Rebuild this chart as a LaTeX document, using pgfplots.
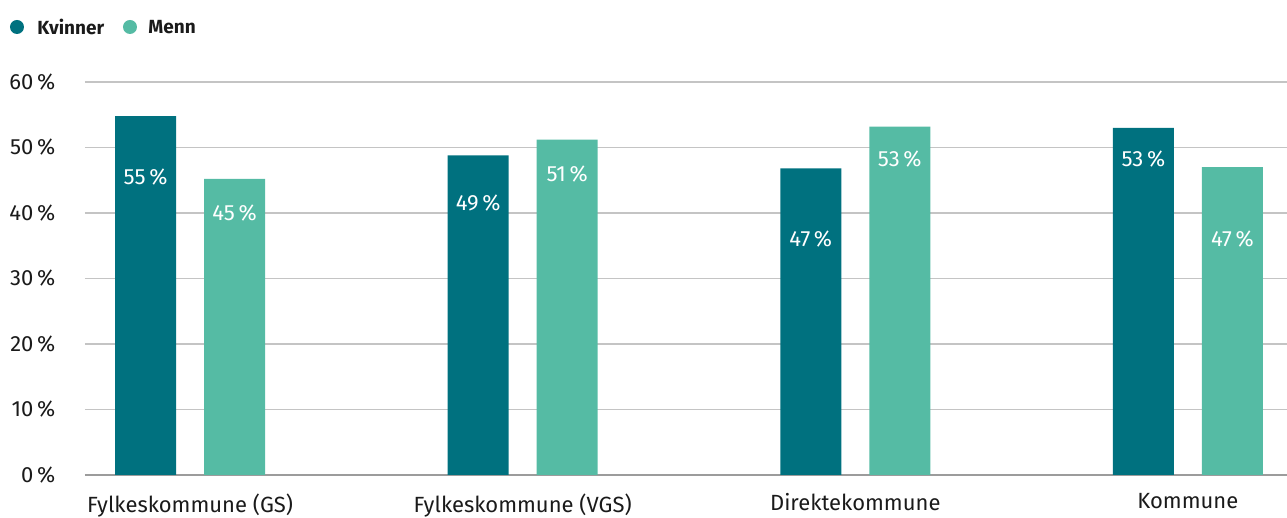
\documentclass[border=0pt]{standalone}
\usepackage{fontspec}
\setmainfont{Fira Sans}
\usepackage{pgfplots}
\pgfplotsset{compat=1.18}

\definecolor{kv}{HTML}{00717F}
\definecolor{me}{HTML}{55BBA4}
\definecolor{txt}{HTML}{1A1A1A}
\definecolor{gridc}{HTML}{C4C4C4}
\definecolor{basec}{HTML}{9C9C9C}

\begin{document}
\fontsize{11}{13}\selectfont
\begin{tikzpicture}
\useasboundingbox (-42.5pt,-21.5pt) rectangle (601pt,237.5pt);
\begin{axis}[
    at={(0,0)}, anchor=south west,
    scale only axis,
    width=601pt, height=196.5pt,
    ybar, bar width=30.5pt,
    xmin=-0.316, xmax=3.298,
    ymin=0, ymax=60,
    ytick={0,10,...,60},
    xtick={0,1,2,3},
    xticklabels={Fylkeskommune (GS), Fylkeskommune (VGS), Direktekommune, Kommune},
    yticklabel={\pgfmathprintnumber{\tick}\,\%},
    /pgf/number format/assume math mode=true,
    major tick length=0pt,
    ymajorgrids,
    grid style={gridc, line width=0.6pt},
    axis x line*=bottom, axis y line*=left,
    x axis line style={basec, line width=0.7pt, -},
    y axis line style={draw=none},
    tick label style={text=txt},
    xticklabel style={yshift=-5.5pt},
    yticklabel style={xshift=-11pt},
]
% Kvinner
\addplot[fill=kv, draw=none, bar shift=-22.25pt] coordinates {(0,54.8) (1,48.8) (2,46.8) (3,53.0)};
% Menn
\addplot[fill=me, draw=none, bar shift=22.25pt] coordinates {(0,45.2) (1,51.2) (2,53.2) (3,47.0)};

\begin{scope}[every node/.style={text=white, font=\fontsize{11}{13}\selectfont}]
\node[xshift=-22.25pt] at (axis cs:0,45.5) {55\,\%};
\node[xshift=22.25pt]  at (axis cs:0,40.0) {45\,\%};
\node[xshift=-22.25pt] at (axis cs:1,41.5) {49\,\%};
\node[xshift=22.25pt]  at (axis cs:1,46.0) {51\,\%};
\node[xshift=-22.25pt] at (axis cs:2,36.0) {47\,\%};
\node[xshift=22.25pt]  at (axis cs:2,48.2) {53\,\%};
\node[xshift=-22.25pt] at (axis cs:3,48.2) {53\,\%};
\node[xshift=22.25pt]  at (axis cs:3,36.0) {47\,\%};
\end{scope}
\end{axis}

% legend
\fill[kv] (-34pt,224pt) circle (3.5pt);
\node[anchor=west, inner sep=0pt, text=txt, font=\fontsize{9.5}{11}\selectfont\bfseries] at (-24pt,224pt) {Kvinner};
\fill[me] (22.5pt,224pt) circle (3.5pt);
\node[anchor=west, inner sep=0pt, text=txt, font=\fontsize{9.5}{11}\selectfont\bfseries] at (31.5pt,224pt) {Menn};
\end{tikzpicture}
\end{document}
